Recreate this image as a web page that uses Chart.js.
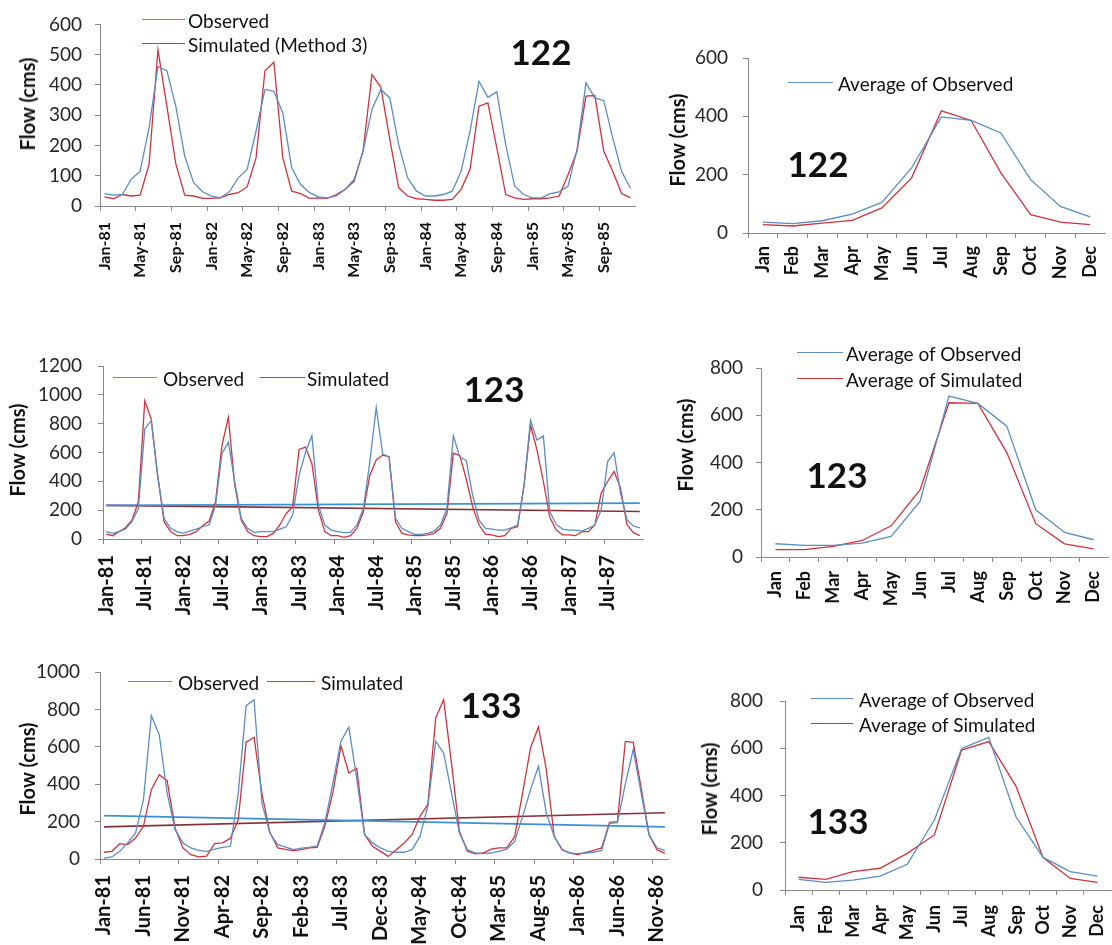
<!DOCTYPE html>
<html>
<head>
<meta charset="utf-8">
<script src="https://cdn.jsdelivr.net/npm/chart.js@4.4.1/dist/chart.umd.min.js"></script>
<style>
  html, body { margin: 0; padding: 0; background: #fff; overflow: hidden; width: 1112px; height: 945px; }
  .panel { position: absolute; }
  .panel canvas { display: block; }
  .txt { position: absolute; white-space: nowrap; font-family: Lato, 'Open Sans', sans-serif; color: #111; line-height: 1; z-index: 5; }
  .swatch { position: absolute; height: 0; z-index: 5; }
</style>
</head>
<body>
<div id="p122ts" class="panel"><canvas></canvas></div>
<div id="p123ts" class="panel"><canvas></canvas></div>
<div id="p133ts" class="panel"><canvas></canvas></div>
<div id="p122avg" class="panel"><canvas></canvas></div>
<div id="p123avg" class="panel"><canvas></canvas></div>
<div id="p133avg" class="panel"><canvas></canvas></div>
<script>
// ---- categories ----
const months122 = ('Jan-81 Feb-81 Mar-81 Apr-81 May-81 Jun-81 Jul-81 Aug-81 Sep-81 Oct-81 Nov-81 Dec-81 ' +
  'Jan-82 Feb-82 Mar-82 Apr-82 May-82 Jun-82 Jul-82 Aug-82 Sep-82 Oct-82 Nov-82 Dec-82 ' +
  'Jan-83 Feb-83 Mar-83 Apr-83 May-83 Jun-83 Jul-83 Aug-83 Sep-83 Oct-83 Nov-83 Dec-83 ' +
  'Jan-84 Feb-84 Mar-84 Apr-84 May-84 Jun-84 Jul-84 Aug-84 Sep-84 Oct-84 Nov-84 Dec-84 ' +
  'Jan-85 Feb-85 Mar-85 Apr-85 May-85 Jun-85 Jul-85 Aug-85 Sep-85 Oct-85 Nov-85 Dec-85').split(' ');

const months123 = ('Jan-81 Feb-81 Mar-81 Apr-81 May-81 Jun-81 Jul-81 Aug-81 Sep-81 Oct-81 Nov-81 Dec-81 ' +
  'Jan-82 Feb-82 Mar-82 Apr-82 May-82 Jun-82 Jul-82 Aug-82 Sep-82 Oct-82 Nov-82 Dec-82 ' +
  'Jan-83 Feb-83 Mar-83 Apr-83 May-83 Jun-83 Jul-83 Aug-83 Sep-83 Oct-83 Nov-83 Dec-83 ' +
  'Jan-84 Feb-84 Mar-84 Apr-84 May-84 Jun-84 Jul-84 Aug-84 Sep-84 Oct-84 Nov-84 Dec-84 ' +
  'Jan-85 Feb-85 Mar-85 Apr-85 May-85 Jun-85 Jul-85 Aug-85 Sep-85 Oct-85 Nov-85 Dec-85 ' +
  'Jan-86 Feb-86 Mar-86 Apr-86 May-86 Jun-86 Jul-86 Aug-86 Sep-86 Oct-86 Nov-86 Dec-86 ' +
  'Jan-87 Feb-87 Mar-87 Apr-87 May-87 Jun-87 Jul-87 Aug-87 Sep-87 Oct-87 Nov-87 Dec-87').split(' ');

const months133 = ('Jan-81 Feb-81 Mar-81 Apr-81 May-81 Jun-81 Jul-81 Aug-81 Sep-81 Oct-81 Nov-81 Dec-81 ' +
  'Jan-82 Feb-82 Mar-82 Apr-82 May-82 Jun-82 Jul-82 Aug-82 Sep-82 Oct-82 Nov-82 Dec-82 ' +
  'Jan-83 Feb-83 Mar-83 Apr-83 May-83 Jun-83 Jul-83 Aug-83 Sep-83 Oct-83 Nov-83 Dec-83 ' +
  'Jan-84 Feb-84 Mar-84 Apr-84 May-84 Jun-84 Jul-84 Aug-84 Sep-84 Oct-84 Nov-84 Dec-84 ' +
  'Jan-85 Feb-85 Mar-85 Apr-85 May-85 Jun-85 Jul-85 Aug-85 Sep-85 Oct-85 Nov-85 Dec-85 ' +
  'Jan-86 Feb-86 Mar-86 Apr-86 May-86 Jun-86 Jul-86 Aug-86 Sep-86 Oct-86 Nov-86 Dec-86').split(' ');

const monthNames = ['Jan', 'Feb', 'Mar', 'Apr', 'May', 'Jun', 'Jul', 'Aug', 'Sep', 'Oct', 'Nov', 'Dec'];

// ---- station 122, monthly flow (cms) ----
const obs122 = [
  41, 36, 38, 88, 115, 258, 461, 447, 330, 165, 77, 47,
  33, 27, 47, 93, 121, 247, 385, 379, 308, 126, 71, 44,
  30, 27, 33, 55, 88, 181, 319, 385, 357, 203, 93, 49,
  33, 33, 38, 49, 115, 247, 412, 359, 377, 203, 66, 38,
  27, 27, 41, 47, 66, 187, 407, 357, 348, 225, 115, 58
];
const sim122 = [
  30, 24, 38, 33, 36, 137, 516, 330, 140, 36, 33, 25,
  25, 27, 38, 44, 63, 159, 447, 475, 160, 49, 41, 25,
  27, 25, 38, 55, 82, 181, 434, 392, 220, 60, 33, 24,
  22, 19, 19, 22, 55, 121, 330, 341, 192, 38, 27, 22,
  24, 24, 27, 33, 104, 181, 363, 365, 181, 115, 41, 27
];

// ---- station 123, monthly flow (cms) ----
const obs123 = [
  51, 39, 51, 69, 120, 211, 763, 821, 441, 143, 74, 51,
  39, 55, 69, 85, 97, 234, 591, 671, 395, 143, 74, 46,
  51, 51, 51, 69, 85, 166, 441, 602, 717, 234, 97, 62,
  51, 44, 46, 97, 211, 533, 913, 591, 568, 143, 74, 51,
  32, 32, 39, 55, 97, 211, 717, 568, 545, 303, 131, 74,
  69, 62, 62, 78, 97, 372, 825, 687, 715, 190, 101, 69,
  62, 62, 55, 74, 97, 200, 537, 599, 320, 134, 90, 78
];
const sim123 = [
  34, 23, 51, 78, 131, 257, 959, 832, 441, 120, 51, 23,
  23, 32, 51, 92, 124, 257, 648, 844, 372, 131, 51, 23,
  16, 16, 39, 97, 177, 223, 621, 637, 522, 200, 51, 23,
  23, 11, 23, 74, 189, 441, 548, 582, 571, 120, 39, 28,
  23, 23, 28, 39, 74, 177, 595, 579, 418, 223, 97, 32,
  28, 16, 23, 74, 85, 372, 791, 618, 400, 150, 62, 28,
  28, 23, 51, 51, 97, 320, 399, 468, 355, 100, 44, 23
];
// linear trend end points (first and last month)
const trendObs123 = [233, 249];
const trendSim123 = [233, 191];

// ---- station 133, monthly flow (cms) ----
const obs133 = [
  5, 11, 41, 86, 139, 317, 766, 665, 353, 157, 86, 59,
  46, 41, 53, 62, 68, 350, 820, 852, 299, 139, 77, 64,
  50, 58, 62, 70, 200, 410, 630, 705, 430, 130, 86, 59,
  41, 36, 36, 50, 121, 282, 629, 567, 353, 139, 50, 32,
  29, 32, 41, 53, 94, 228, 371, 496, 246, 121, 50, 32,
  29, 32, 36, 46, 190, 195, 400, 585, 353, 130, 60, 45
];
const sim133 = [
  36, 41, 82, 77, 112, 175, 371, 451, 419, 166, 59, 23,
  11, 15, 82, 86, 110, 210, 625, 651, 350, 143, 59, 51,
  45, 50, 60, 62, 180, 360, 605, 460, 485, 130, 68, 41,
  14, 50, 86, 130, 228, 291, 754, 852, 510, 148, 41, 27,
  32, 53, 59, 59, 121, 353, 594, 706, 478, 121, 50, 32,
  23, 36, 46, 59, 196, 200, 629, 624, 380, 130, 50, 30
];
const trendObs133 = [232, 172];
const trendSim133 = [172, 247];

// ---- long-term monthly averages (cms) ----
const avgObs122 = [37, 32, 42, 65, 105, 223, 398, 386, 343, 183, 91, 55];
const avgSim122 = [29, 24, 34, 43, 86, 189, 419, 386, 206, 63, 37, 29];
const avgObs123 = [56, 49, 49, 59, 87, 235, 681, 650, 554, 200, 104, 73];
const avgSim123 = [31, 31, 45, 70, 132, 284, 653, 650, 442, 141, 56, 34];
const avgObs133 = [45, 32, 42, 59, 109, 296, 599, 646, 310, 138, 78, 59];
const avgSim133 = [54, 45, 78, 92, 155, 233, 592, 628, 440, 137, 49, 32];

// ---- styling ----
const BLUE = '#5b8dc3';
const RED = '#cc3440';
const TREND_BLUE = '#3a92d6';
const TREND_RED = '#86303a';
const AXIS = '#8a8a8a';
const FAMILY = "Lato, 'Open Sans', sans-serif";

Chart.defaults.font.family = FAMILY;

function series(data, color, width) {
  return { data, borderColor: color, backgroundColor: color, borderWidth: width || 1.3,
           pointRadius: 0, pointHoverRadius: 0, tension: 0, fill: false };
}
function trend(labels, ends, color) {
  return series([{ x: labels[0], y: ends[0] }, { x: labels[labels.length - 1], y: ends[1] }], color, 1.6);
}

function makePanel(id, box, plot, labels, datasets, yMax, yStep, opt) {
  const el = document.getElementById(id);
  el.style.left = box.x + 'px';
  el.style.top = box.y + 'px';
  const cv = el.querySelector('canvas');
  cv.width = box.w; cv.height = box.h;
  cv.style.width = box.w + 'px'; cv.style.height = box.h + 'px';
  const n = labels.length;
  const every = opt.every;
  return new Chart(cv, {
    type: 'line',
    data: { labels, datasets },
    options: {
      responsive: false,
      animation: false,
      devicePixelRatio: 1,
      events: [],
      layout: { padding: { left: 0, top: plot.t - box.y, right: box.x + box.w - plot.r, bottom: 0 } },
      plugins: { legend: { display: false }, tooltip: { enabled: false } },
      scales: {
        x: {
          type: 'category',
          offset: true,
          afterFit(s) { s.height = box.y + box.h - plot.b; },
          border: { color: AXIS, width: 1 },
          grid: {
            offset: true, drawOnChartArea: false, tickLength: 5, lineWidth: 1,
            color: (c) => (c.index % every === 0 || c.index === n) ? AXIS : 'rgba(0,0,0,0)'
          },
          ticks: {
            autoSkip: false, minRotation: 90, maxRotation: 90, padding: opt.xPad,
            color: '#111', font: { size: opt.xSize, weight: 'bold', family: FAMILY },
            callback(v, i) { return i % every === 0 ? this.getLabelForValue(v) : ''; }
          }
        },
        y: {
          min: 0, max: yMax,
          afterFit(s) { s.width = plot.l - box.x; },
          border: { color: AXIS, width: 1 },
          grid: { drawOnChartArea: false, tickLength: 5, color: AXIS, lineWidth: 1 },
          ticks: {
            stepSize: yStep, padding: opt.yPad, color: '#262626', font: { size: 19, family: FAMILY },
            callback: (v) => String(v)
          }
        }
      }
    }
  });
}

// ---- text helpers ----
function text(str, x, y, o) {
  const d = document.createElement('div');
  d.className = 'txt';
  d.textContent = str;
  d.style.fontSize = (o.size || 19) + 'px';
  d.style.fontWeight = o.bold ? '700' : '400';
  d.style.left = x + 'px';
  d.style.top = y + 'px';
  if (o.rotate) d.style.transform = 'translate(-50%,-50%) rotate(-90deg)';
  else if (o.center) d.style.transform = 'translate(-50%,-50%)';
  else d.style.transform = 'translateY(-50%)';
  document.body.appendChild(d);
}
function legendItem(str, x0, x1, y, color, tx) {
  const s = document.createElement('div');
  s.className = 'swatch';
  s.style.left = x0 + 'px';
  s.style.width = (x1 - x0) + 'px';
  s.style.top = (y - 0.75) + 'px';
  s.style.borderTop = '1.5px solid ' + color;
  document.body.appendChild(s);
  text(str, tx, y, { size: 19 });
}

// ---- time series panels ----
makePanel('p122ts', { x: 0, y: 0, w: 700, h: 300 }, { l: 100, r: 635, t: 23, b: 206 },
  months122, [series(obs122, BLUE), series(sim122, RED)], 600, 100,
  { every: 4, xPad: 11, xSize: 16, yPad: 13 });

makePanel('p123ts', { x: 0, y: 300, w: 700, h: 320 }, { l: 103, r: 643, t: 366, b: 539 },
  months123, [series(obs123, BLUE), series(sim123, RED),
              trend(months123, trendObs123, TREND_BLUE), trend(months123, trendSim123, TREND_RED)],
  1200, 200, { every: 6, xPad: 11, xSize: 20, yPad: 16 });

makePanel('p133ts', { x: 0, y: 620, w: 700, h: 325 }, { l: 100, r: 673, t: 672, b: 859 },
  months133, [series(obs133, BLUE), series(sim133, RED),
              trend(months133, trendObs133, TREND_BLUE), trend(months133, trendSim133, TREND_RED)],
  1000, 200, { every: 5, xPad: 11, xSize: 20, yPad: 15 });

// ---- monthly average panels ----
makePanel('p122avg', { x: 690, y: 0, w: 440, h: 300 }, { l: 748, r: 1105, t: 58, b: 233 },
  monthNames, [series(avgObs122, BLUE), series(avgSim122, RED)], 600, 200,
  { every: 1, xPad: 8, xSize: 18, yPad: 15 });

makePanel('p123avg', { x: 690, y: 300, w: 440, h: 320 }, { l: 761, r: 1108, t: 368, b: 557 },
  monthNames, [series(avgObs123, BLUE), series(avgSim123, RED)], 800, 200,
  { every: 1, xPad: 9, xSize: 18, yPad: 13 });

makePanel('p133avg', { x: 690, y: 620, w: 440, h: 325 }, { l: 785, r: 1111, t: 701, b: 890 },
  monthNames, [series(avgObs133, BLUE), series(avgSim133, RED)], 800, 200,
  { every: 1, xPad: 10, xSize: 18, yPad: 17 });

// ---- axis titles ----
text('Flow (cms)', 27, 104, { size: 20, bold: true, rotate: true });
text('Flow (cms)', 17, 450, { size: 20, bold: true, rotate: true });
text('Flow (cms)', 27, 769, { size: 20, bold: true, rotate: true });
text('Flow (cms)', 677, 140, { size: 20, bold: true, rotate: true });
text('Flow (cms)', 685, 445, { size: 20, bold: true, rotate: true });
text('Flow (cms)', 709, 789, { size: 20, bold: true, rotate: true });

// ---- station numbers ----
text('122', 541, 51, { size: 35, bold: true, center: true });
text('123', 494, 388, { size: 35, bold: true, center: true });
text('133', 491, 704, { size: 35, bold: true, center: true });
text('122', 818, 163, { size: 35, bold: true, center: true });
text('123', 837, 474, { size: 35, bold: true, center: true });
text('133', 838, 820, { size: 35, bold: true, center: true });

// ---- legends ----
legendItem('Observed', 142, 185, 20, BLUE, 188);
legendItem('Simulated (Method 3)', 142, 185, 44, RED, 188);

legendItem('Observed', 113, 157, 378, BLUE, 163);
legendItem('Simulated', 260, 305, 378, RED, 307);

legendItem('Observed', 128, 172, 682, BLUE, 178);
legendItem('Simulated', 267, 315, 682, RED, 321);

legendItem('Average of Observed', 788, 833, 83, BLUE, 838);

legendItem('Average of Observed', 797, 843, 353, BLUE, 846);
legendItem('Average of Simulated', 797, 843, 379, RED, 846);

legendItem('Average of Observed', 811, 853, 699, BLUE, 859);
legendItem('Average of Simulated', 811, 853, 724, RED, 859);
</script>
</body>
</html>
